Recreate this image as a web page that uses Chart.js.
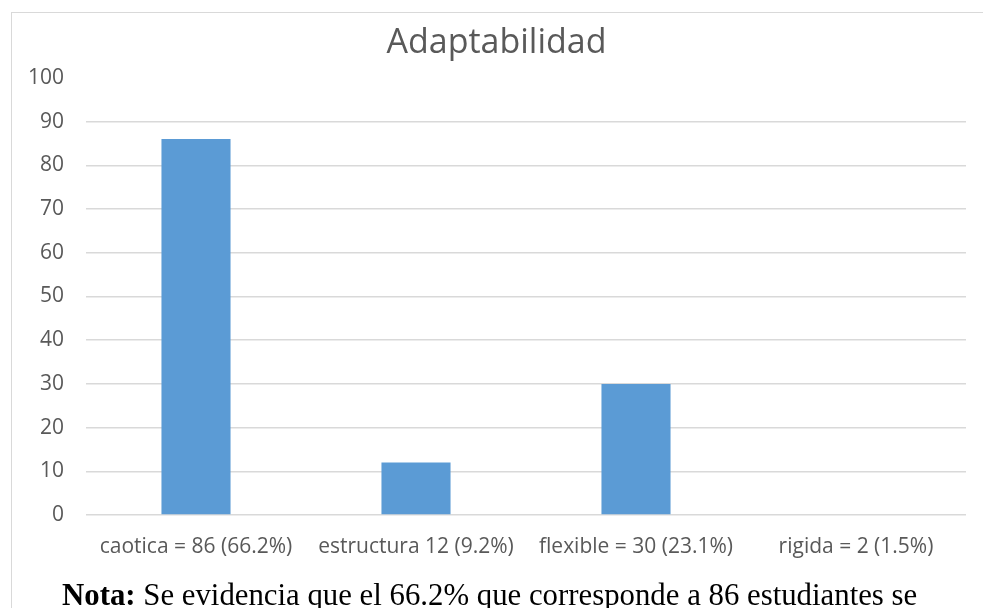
<!DOCTYPE html>
<html>
<head>
<meta charset="utf-8">
<script src="https://cdn.jsdelivr.net/npm/chart.js@4/dist/chart.umd.min.js"></script>
<style>
  html, body { margin: 0; padding: 0; background: #fff; overflow: hidden; }
  body { width: 983px; height: 608px; position: relative; }
  #frame {
    position: absolute; left: 11px; top: 12px;
    width: 1100px; height: 700px;
    border: 1.5px solid #d9d9d9; box-sizing: border-box;
  }
  #wrap { position: absolute; left: 0; top: 0; width: 983px; height: 608px; }
  #nota {
    position: absolute; left: 62px; top: 580px; white-space: nowrap;
    font-family: "Liberation Serif", "Times New Roman", serif;
    font-size: 30.8px; line-height: 31px; color: #000;
  }
</style>
</head>
<body>
<div id="frame"></div>
<div id="wrap"><canvas id="adaptChart"></canvas></div>
<div id="nota"><b>Nota:</b> Se evidencia que el 66.2% que corresponde a 86 estudiantes se</div>
<script>
// chart values
var categories = ['caotica = 86 (66.2%)', 'estructura 12 (9.2%)', 'flexible = 30 (23.1%)', 'rigida = 2 (1.5%)'];
var counts = [86, 12, 30, 0];   // no bar visible for "rigida" in the picture
var yMax = 100;
var yStep = 10;

document.addEventListener('DOMContentLoaded', function () {
  Chart.defaults.font.family = '"Open Sans", sans-serif';
  Chart.defaults.color = '#595959';

  var ctx = document.getElementById('adaptChart');
  new Chart(ctx, {
    type: 'bar',
    data: {
      labels: categories,
      datasets: [{
        label: 'Adaptabilidad',
        data: counts,
        backgroundColor: '#5b9bd5',
        borderWidth: 0,
        categoryPercentage: 1,
        barPercentage: 0.314
      }]
    },
    options: {
      responsive: true,
      maintainAspectRatio: false,
      animation: false,
      layout: { padding: { top: 20, left: 27, right: 17, bottom: 37.7 } },
      scales: {
        x: {
          grid: { display: false },
          border: { display: false },
          ticks: { padding: 11, font: { size: 21 }, color: '#595959', maxRotation: 0 }
        },
        y: {
          min: 0,
          max: yMax,
          border: { display: false },
          afterFit: function (scale) { scale.width = 59; },
          grid: {
            drawTicks: false,
            lineWidth: 1.5,
            color: function (c) {
              return c.tick && c.tick.value === yMax ? 'rgba(0,0,0,0)' : '#d9d9d9';
            }
          },
          ticks: { stepSize: yStep, padding: 22, font: { size: 21 }, color: '#595959' }
        }
      },
      plugins: {
        legend: { display: false },
        tooltip: { enabled: false },
        title: {
          display: true,
          text: 'Adaptabilidad',
          color: '#595959',
          font: { size: 34, weight: 'normal' },
          padding: { top: 3, bottom: 14 }
        }
      }
    }
  });
});
</script>
</body>
</html>
